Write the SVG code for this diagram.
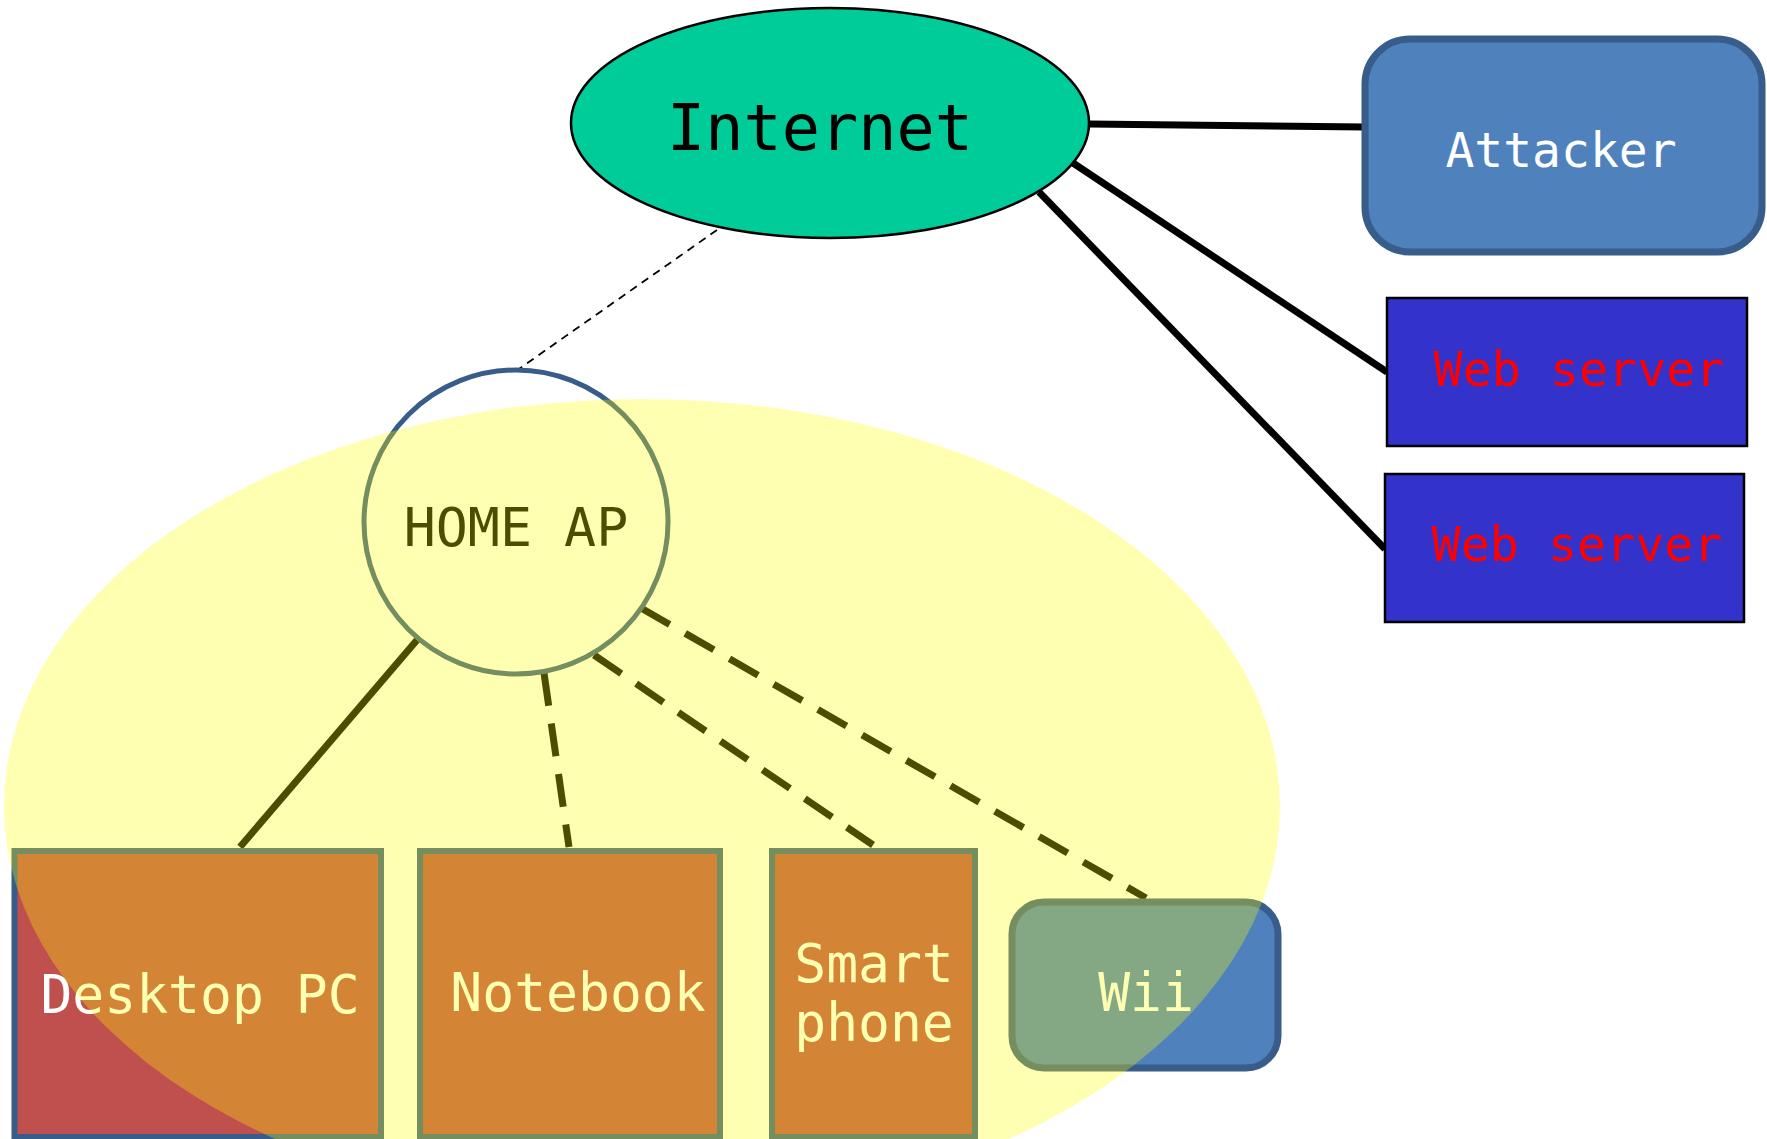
<svg xmlns="http://www.w3.org/2000/svg" width="1767" height="1139" viewBox="0 0 1767 1139">
<style>
text{font-family:"DejaVu Sans Mono","Liberation Mono",monospace;}
.thick{stroke:#000;stroke-width:7;fill:none;}
.dash{stroke:#000;stroke-width:7;fill:none;stroke-dasharray:33 18;}
.dev{fill:#c0504d;stroke:#385d8a;stroke-width:6;}
.blue{fill:#4f81bd;stroke:#385d8a;stroke-width:7;}
.web{fill:#3333cc;stroke:#000;stroke-width:2.5;}
.wt{fill:#ffffff;font-size:53px;}
.rt{fill:#ff0000;font-size:48.3px;}
</style>
<rect width="1767" height="1139" fill="#ffffff"/>
<g id="connectors">
<line class="thick" x1="1089" y1="124" x2="1364" y2="127"/>
<line class="thick" x1="1073" y1="163" x2="1387" y2="372"/>
<line class="thick" x1="1039" y1="192" x2="1385" y2="549"/>
<line x1="717" y1="230" x2="516" y2="371" stroke="#000" stroke-width="1.8" stroke-dasharray="8 6"/>
<line class="thick" x1="417" y1="640" x2="240" y2="847"/>
<line class="dash" x1="544" y1="673" x2="569" y2="847"/>
<line class="dash" x1="594" y1="655" x2="873" y2="845"/>
<line class="dash" x1="641" y1="608" x2="1146" y2="898"/>
</g>
<g id="internet">
<ellipse cx="830" cy="123" rx="259" ry="115" fill="#00cc99" stroke="#000" stroke-width="2.5"/>
<text x="820" y="150" text-anchor="middle" font-size="63.5" fill="#000">Internet</text>
</g>
<g id="attacker">
<rect class="blue" x="1365" y="39" width="397" height="213" rx="45"/>
<text x="1561" y="167" text-anchor="middle" font-size="48" fill="#ffffff">Attacker</text>
</g>
<g id="webserver1">
<rect class="web" x="1387" y="298" width="360" height="148"/>
<text class="rt" x="1579" y="386" text-anchor="middle">Web server</text>
</g>
<g id="webserver2">
<rect class="web" x="1385" y="474" width="359" height="148"/>
<text class="rt" x="1577" y="561" text-anchor="middle">Web server</text>
</g>
<g id="homeap">
<circle cx="516" cy="522" r="152" fill="#ffffff" stroke="#385d8a" stroke-width="5"/>
<text x="516" y="546" text-anchor="middle" font-size="53.3" fill="#000">HOME AP</text>
</g>
<g id="desktop">
<rect class="dev" x="14.5" y="851" width="366.5" height="286"/>
<text class="wt" x="200" y="1013" text-anchor="middle">Desktop PC</text>
</g>
<g id="notebook">
<rect class="dev" x="420" y="851" width="300" height="286"/>
<text class="wt" x="578" y="1011" text-anchor="middle">Notebook</text>
</g>
<g id="smartphone">
<rect class="dev" x="772" y="851" width="203" height="286"/>
<text class="wt" x="874" y="982" text-anchor="middle">Smart</text>
<text class="wt" x="874" y="1041" text-anchor="middle">phone</text>
</g>
<g id="wii">
<rect class="blue" x="1012" y="902" width="266" height="166" rx="32"/>
<text class="wt" x="1146" y="1011" text-anchor="middle">Wii</text>
</g>
<ellipse id="home-zone" cx="642" cy="806" rx="638" ry="407" fill="#ffff00" fill-opacity="0.3"/>
</svg>
